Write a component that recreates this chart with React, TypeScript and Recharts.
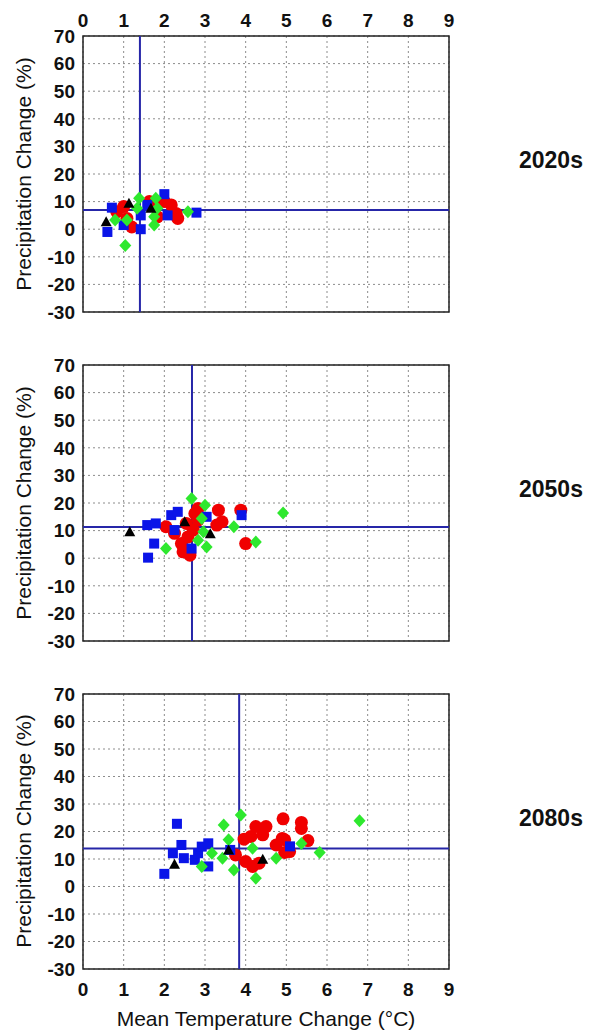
import React from 'react';
import { ScatterChart, Scatter, XAxis, YAxis, CartesianGrid, ReferenceLine, ReferenceArea } from 'recharts';

const tempTicks = [0, 1, 2, 3, 4, 5, 6, 7, 8, 9];
const precipTicks = [-30, -20, -10, 0, 10, 20, 30, 40, 50, 60, 70];
const periods = ['2020s', '2050s', '2080s'];
const meanTemp = [1.4, 2.68, 3.84];
const meanPrecip = [7, 11.3, 13.8];

// 2020s
const red2020 = [[0.83, 6.3], [1.08, 3.9], [1.2, 0.8], [1.0, 8.2], [1.75, 8.8], [1.83, 4.5], [2.17, 8.8], [2.29, 5.7], [2.33, 3.9], [1.63, 10], [2.0, 10]];
const blue2020 = [[0.71, 7.8], [0.6, -1], [2.0, 12.7], [1.42, 0], [1.42, 5], [2.08, 5], [2.79, 6], [1.0, 1.5], [1.58, 8.8]];
const green2020 = [[1.38, 11.2], [1.04, -5.9], [0.79, 3.3], [1.08, 3.3], [1.75, 1.5], [1.75, 4.5], [1.79, 11.2], [2.58, 6.3], [1.83, 7.6], [1.33, 7.6]];
const black2020 = [[0.57, 2.7], [1.13, 9.4], [1.67, 7.6]];

// 2050s
const red2050 = [[2.04, 11.4], [2.25, 9], [2.42, 5.3], [2.46, 2.3], [2.63, 1.1], [2.58, 7.7], [2.71, 10.2], [2.83, 18], [2.83, 13.8], [3.33, 17.4], [3.29, 12], [3.42, 13.2], [3.88, 17.4], [4.0, 5.3], [2.54, 12.6], [2.75, 16.2]];
const blue2050 = [[1.6, 0.2], [1.75, 5.3], [1.58, 12], [1.79, 12.6], [2.17, 15.6], [2.33, 16.8], [2.25, 10.2], [2.67, 3.5], [3.04, 15], [3.9, 15.6]];
const green2050 = [[2.67, 21.6], [2.04, 3.5], [3.04, 4.1], [2.96, 9.6], [2.83, 6.5], [3.71, 11.4], [4.25, 5.9], [4.92, 16.4], [3.0, 19.2], [2.92, 14.4]];
const black2050 = [[1.15, 9.6], [2.5, 13.2], [3.13, 8.9]];

// 2080s
const red2080 = [[3.75, 11.5], [3.96, 17.2], [4.0, 9.1], [4.17, 7.3], [4.33, 8.5], [4.13, 18.2], [4.25, 21.8], [4.5, 21.8], [4.42, 18.8], [4.75, 15.1], [4.92, 24.6], [4.96, 17], [5.08, 12.7], [5.37, 23.3], [5.37, 21.1], [5.53, 16.7], [4.96, 12.4], [4.9, 17.5]];
const blue2080 = [[2.0, 4.6], [2.31, 22.8], [2.21, 12.1], [2.42, 15.1], [2.48, 10.3], [2.75, 9.7], [2.83, 12.1], [2.92, 14.5], [3.08, 15.7], [3.08, 7.3], [3.62, 13.3], [5.09, 14.6]];
const green2080 = [[2.92, 7.3], [3.17, 12.1], [3.46, 22.4], [3.43, 10.3], [3.58, 17], [3.71, 6], [3.88, 26], [4.25, 3], [4.17, 13.9], [4.75, 10.3], [5.37, 15.6], [5.82, 12.4], [6.8, 23.9]];
const black2080 = [[2.25, 8.1], [3.58, 13.3], [4.42, 9.9]];

const toPts = (arr: number[][]) => arr.map(([x, y]) => ({ x, y }));

const Square = (p: any) => <rect x={p.cx - 5} y={p.cy - 5} width={10} height={10} fill="#0a14e8" />;
const Dot = (p: any) => <circle cx={p.cx} cy={p.cy} r={6.5} fill="#f00000" />;
const Diamond = (p: any) => (
  <polygon points={`${p.cx},${p.cy - 6.5} ${p.cx + 6},${p.cy} ${p.cx},${p.cy + 6.5} ${p.cx - 6},${p.cy}`} fill="#2ee82e" />
);
const Triangle = (p: any) => (
  <polygon points={`${p.cx},${p.cy - 5.5} ${p.cx + 5.5},${p.cy + 4.5} ${p.cx - 5.5},${p.cy + 4.5}`} fill="#000" />
);

const tickStyle = { fontSize: 19, fontWeight: 'bold', fill: '#111' };

interface PanelProps {
  top: number;
  height: number;
  margin: { top: number; right: number; bottom: number; left: number };
  axis: 'top' | 'none' | 'bottom';
  idx: number;
  red: number[][];
  blue: number[][];
  green: number[][];
  black: number[][];
}

const Panel = ({ top, height, margin, axis, idx, red, blue, green, black }: PanelProps) => (
  <div style={{ position: 'absolute', left: 0, top }}>
    <ScatterChart width={598} height={height} margin={margin}>
      <CartesianGrid stroke="#8c8c8c" strokeDasharray="2 3" />
      <XAxis
        type="number"
        dataKey="x"
        domain={[0, 9]}
        ticks={tempTicks}
        hide={axis === 'none'}
        orientation={axis === 'top' ? 'top' : 'bottom'}
        height={axis === 'top' ? 30 : 40}
        axisLine={false}
        tickLine={false}
        tickSize={0}
        tickMargin={axis === 'top' ? 9 : 14}
        tick={tickStyle}
        interval={0}
      />
      <YAxis
        type="number"
        dataKey="y"
        domain={[-30, 70]}
        ticks={precipTicks}
        width={40}
        axisLine={false}
        tickLine={false}
        tickSize={0}
        tickMargin={8}
        tick={tickStyle}
        interval={0}
      />
      <ReferenceLine x={meanTemp[idx]} stroke="#2626a8" strokeWidth={2} />
      <ReferenceLine y={meanPrecip[idx]} stroke="#2626a8" strokeWidth={2} />
      <Scatter data={toPts(red)} shape={Dot} isAnimationActive={false} />
      <Scatter data={toPts(blue)} shape={Square} isAnimationActive={false} />
      <Scatter data={toPts(green)} shape={Diamond} isAnimationActive={false} />
      <Scatter data={toPts(black)} shape={Triangle} isAnimationActive={false} />
      <ReferenceArea x1={0} x2={9} y1={-30} y2={70} fill="none" stroke="#222" strokeWidth={1.5} />
    </ScatterChart>
  </div>
);

const yLabel = (cy: number) => (
  <div
    style={{
      position: 'absolute',
      left: 23,
      top: cy,
      transform: 'translate(-50%, -50%) rotate(-90deg)',
      whiteSpace: 'nowrap',
      fontSize: 21,
      lineHeight: '21px',
      color: '#111',
    }}
  >
    Precipitation Change (%)
  </div>
);

const periodLabel = (text: string, cy: number) => (
  <div
    style={{
      position: 'absolute',
      left: 519,
      top: cy,
      transform: 'translateY(-50%)',
      fontSize: 23,
      lineHeight: '23px',
      fontWeight: 'bold',
      color: '#111',
    }}
  >
    {text}
  </div>
);

export default function App() {
  return (
    <div
      style={{
        position: 'absolute',
        left: 0,
        top: 0,
        width: 598,
        height: 1034,
        background: '#fff',
        fontFamily: '"Liberation Sans", Arial, sans-serif',
      }}
    >
      <Panel top={0} height={330} margin={{ top: 6, right: 149, bottom: 18, left: 43 }} axis="top" idx={0} red={red2020} blue={blue2020} green={green2020} black={black2020} />
      <Panel top={330} height={330} margin={{ top: 35, right: 149, bottom: 19, left: 43 }} axis="none" idx={1} red={red2050} blue={blue2050} green={green2050} black={black2050} />
      <Panel top={660} height={374} margin={{ top: 34, right: 149, bottom: 25, left: 43 }} axis="bottom" idx={2} red={red2080} blue={blue2080} green={green2080} black={black2080} />
      {yLabel(174)}
      {yLabel(503)}
      {yLabel(831)}
      {periodLabel(periods[0], 160)}
      {periodLabel(periods[1], 489)}
      {periodLabel(periods[2], 818)}
      <div
        style={{
          position: 'absolute',
          left: 266,
          top: 1008,
          transform: 'translateX(-50%)',
          whiteSpace: 'nowrap',
          fontSize: 21,
          lineHeight: '21px',
          color: '#111',
        }}
      >
        Mean Temperature Change (°C)
      </div>
    </div>
  );
}
